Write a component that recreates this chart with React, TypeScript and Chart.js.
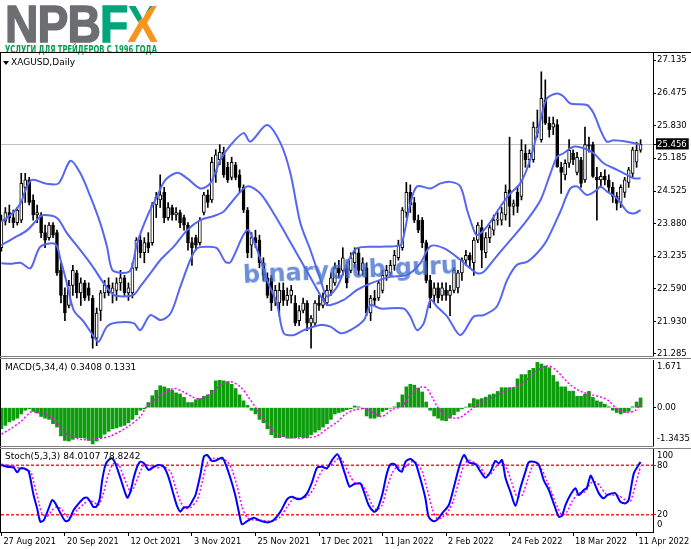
import React, { useEffect, useLayoutEffect, useRef } from 'react';
import { Chart, registerables } from 'chart.js';

Chart.register(...registerables);

// ---------------- data ----------------
const dateTickLabels = ['27 Aug 2021', '20 Sep 2021', '12 Oct 2021', '3 Nov 2021', '25 Nov 2021', '17 Dec 2021', '11 Jan 2022', '2 Feb 2022', '24 Feb 2022', '18 Mar 2022', '11 Apr 2022'];
const barsPerDateTick = 16;

const opens = [
  23.40, 23.93, 24.10, 24.00, 23.90, 23.95, 24.60, 24.75, 24.35, 24.05,
  24.05, 23.70, 23.60, 23.85, 23.70, 22.95, 22.45, 22.25, 22.65, 22.90,
  22.50, 22.70, 22.60, 22.40, 21.60, 22.15, 22.50, 22.65, 22.50, 22.55,
  22.70, 22.80, 22.50, 22.50, 23.00, 23.55, 23.30, 23.50, 23.50, 24.25,
  24.35, 24.50, 24.00, 24.20, 24.05, 24.10, 24.00, 23.85, 23.50, 23.60,
  23.50, 24.10, 24.45, 24.35, 24.90, 25.15, 25.30, 25.00, 24.80, 25.05,
  24.85, 24.60, 24.15, 23.45, 23.60, 23.55, 23.10, 22.80, 22.80, 22.35,
  22.30, 22.55, 22.35, 22.45, 22.30, 21.95, 22.15, 22.30, 21.90, 21.90,
  22.30, 22.25, 22.30, 22.55, 22.70, 23.00, 22.95, 23.00, 22.95, 23.10,
  23.30, 22.95, 23.00, 22.10, 22.40, 22.40, 22.55, 22.85, 22.90, 23.05,
  23.20, 23.40, 24.10, 24.50, 24.30, 23.95, 23.95, 23.50, 22.75, 22.45,
  22.60, 22.45, 22.55, 22.45, 22.55, 22.60, 22.90, 23.15, 23.25, 23.10,
  23.55, 23.80, 23.30, 23.60, 23.75, 23.95, 23.95, 24.05, 24.55, 24.22,
  24.50, 24.42, 25.28, 25.15, 25.15, 25.68, 25.55, 26.34, 25.88, 25.80,
  25.85, 25.00, 24.85, 25.08, 25.28, 24.90, 25.15, 24.75, 25.45, 25.45,
  24.80, 24.75, 24.82, 24.75, 24.60, 24.42, 24.30, 24.50, 24.70, 24.88,
  25.10, 25.34,
];
const highs = [
  24.05, 24.20, 24.25, 24.15, 24.20, 24.88, 24.88, 24.80, 24.45, 24.25,
  24.10, 23.85, 23.90, 23.90, 23.75, 23.10, 22.60, 22.75, 23.05, 22.95,
  22.80, 22.75, 22.70, 22.45, 22.20, 22.55, 22.75, 22.80, 22.70, 22.80,
  22.95, 22.85, 22.70, 23.10, 23.60, 23.65, 23.60, 23.70, 24.30, 24.50,
  24.85, 24.60, 24.30, 24.25, 24.20, 24.15, 24.05, 23.90, 23.60, 23.65,
  24.00, 24.50, 24.55, 25.20, 25.35, 25.45, 25.40, 25.10, 25.20, 25.10,
  24.95, 24.65, 24.20, 23.70, 23.75, 23.65, 23.20, 22.90, 22.85, 22.65,
  22.70, 22.70, 22.60, 22.65, 22.45, 22.25, 22.40, 22.35, 22.05, 22.35,
  22.45, 22.50, 22.65, 22.90, 23.10, 23.15, 23.40, 23.10, 23.30, 23.40,
  23.40, 23.20, 23.10, 22.45, 22.55, 22.75, 22.95, 23.05, 23.15, 23.35,
  23.55, 24.20, 24.70, 24.65, 24.40, 24.05, 24.00, 23.55, 22.85, 22.70,
  22.70, 22.70, 22.70, 22.65, 23.00, 22.95, 23.20, 23.35, 23.30, 23.60,
  23.90, 23.95, 23.70, 23.85, 24.05, 24.10, 24.20, 24.65, 25.60, 24.35,
  24.60, 25.55, 25.45, 25.35, 25.90, 26.14, 26.90, 26.74, 26.00, 26.00,
  25.95, 25.10, 25.15, 25.55, 25.35, 25.30, 25.20, 25.80, 25.60, 25.50,
  25.00, 24.90, 24.95, 24.85, 24.70, 24.50, 24.65, 24.80, 25.00, 25.40,
  25.50, 25.55,
];
const lows = [
  23.33, 23.85, 23.90, 23.80, 23.85, 23.90, 24.30, 24.25, 23.95, 23.90,
  23.60, 23.40, 23.55, 23.60, 22.85, 22.30, 21.95, 22.20, 22.45, 22.40,
  22.25, 22.35, 22.35, 21.40, 21.45, 21.95, 22.40, 22.45, 22.30, 22.35,
  22.55, 22.45, 22.35, 22.40, 22.95, 23.20, 23.10, 23.30, 23.45, 24.00,
  24.20, 23.90, 23.95, 23.95, 23.95, 23.80, 23.75, 23.35, 23.05, 23.35,
  23.45, 24.05, 24.20, 24.30, 24.70, 25.05, 24.80, 24.70, 24.75, 24.75,
  24.50, 24.10, 23.20, 23.20, 23.40, 23.00, 22.75, 22.40, 22.15, 22.25,
  22.05, 22.25, 22.25, 22.30, 21.85, 21.85, 22.10, 21.75, 21.40, 21.85,
  22.15, 22.20, 22.25, 22.45, 22.65, 22.80, 22.85, 22.60, 22.90, 23.00,
  22.85, 22.85, 22.05, 21.95, 22.25, 22.35, 22.50, 22.75, 22.85, 22.95,
  23.15, 23.35, 24.00, 24.10, 23.90, 23.70, 23.40, 22.70, 22.20, 22.30,
  22.30, 22.35, 22.35, 22.05, 22.50, 22.50, 22.75, 23.05, 23.00, 22.85,
  23.50, 23.00, 23.20, 23.50, 23.65, 23.85, 23.85, 23.95, 23.82, 24.05,
  24.10, 24.35, 25.00, 25.00, 25.10, 25.60, 25.50, 25.85, 25.60, 25.65,
  25.00, 24.48, 24.75, 25.00, 25.05, 24.85, 24.60, 24.70, 25.30, 24.80,
  23.95, 24.60, 24.65, 24.50, 24.30, 24.15, 24.20, 24.40, 24.60, 24.80,
  25.00, 25.30,
];
const closes = [
  23.95, 24.10, 24.00, 23.90, 24.15, 24.68, 24.75, 24.30, 24.05, 24.10,
  23.70, 23.55, 23.85, 23.65, 22.90, 22.45, 22.10, 22.65, 22.95, 22.50,
  22.70, 22.40, 22.45, 21.60, 22.10, 22.50, 22.65, 22.50, 22.60, 22.70,
  22.80, 22.50, 22.60, 23.00, 23.55, 23.30, 23.50, 23.40, 24.25, 24.40,
  24.45, 24.00, 24.20, 24.05, 24.10, 23.90, 23.85, 23.50, 23.40, 23.45,
  23.95, 24.45, 24.30, 25.10, 25.25, 25.30, 24.85, 24.75, 25.10, 24.80,
  24.60, 24.15, 23.30, 23.60, 23.50, 23.10, 22.85, 22.45, 22.30, 22.55,
  22.55, 22.35, 22.45, 22.55, 21.90, 22.15, 22.30, 21.90, 22.00, 22.30,
  22.25, 22.40, 22.55, 22.80, 23.00, 22.90, 23.20, 22.70, 23.20, 23.30,
  22.95, 23.10, 22.10, 22.40, 22.35, 22.70, 22.85, 22.95, 23.05, 23.25,
  23.45, 24.15, 24.50, 24.25, 23.95, 23.75, 23.50, 22.75, 22.40, 22.60,
  22.40, 22.60, 22.45, 22.55, 22.95, 22.90, 23.15, 23.25, 23.15, 23.55,
  23.85, 23.35, 23.60, 23.80, 23.95, 23.97, 24.10, 24.50, 24.22, 24.28,
  24.22, 25.34, 25.15, 25.28, 25.80, 25.80, 26.37, 25.88, 25.75, 25.87,
  25.01, 24.90, 25.08, 25.34, 25.15, 25.20, 24.68, 25.45, 25.42, 24.82,
  24.75, 24.82, 24.75, 24.60, 24.42, 24.28, 24.60, 24.75, 24.95, 25.35,
  25.34, 25.456,
];

// Bollinger bands: [bar index, price] read along each band
const bbUpper = [
  [0, 23.92], [2.3, 24.05], [4.8, 24.28], [6.1, 24.55], [7.7, 24.75], [11.5, 24.67], [14.4, 24.68], [17.4, 25.13],
  [19.9, 24.88], [22.4, 24.42], [24.9, 23.89], [26.6, 23.42], [27.9, 22.96], [30.0, 22.90], [32.1, 22.92], [32.9, 23.02],
  [34.2, 23.49], [36.7, 24.02], [39.2, 24.42], [41.3, 24.75], [44.3, 24.89], [46.8, 24.78], [50.1, 24.58], [52.6, 24.68],
  [55.2, 25.15], [57.7, 25.44], [61.0, 25.68], [62.7, 25.51], [66.9, 25.84], [70.3, 25.48], [72.8, 24.88], [75.3, 23.89],
  [77.8, 23.36], [80.4, 22.76], [82.0, 22.43], [84.6, 22.63], [87.1, 23.09], [89.6, 23.39], [95.5, 23.42], [100.5, 23.45],
  [101.3, 23.62], [103.0, 24.28], [104.7, 24.62], [108.1, 24.58], [110.6, 24.68], [113.1, 24.71], [115.6, 24.62], [117.3, 24.15],
  [119.0, 23.75], [119.8, 23.65], [122.3, 23.82], [125.7, 24.22], [128.2, 24.48], [130.7, 24.68], [133.2, 25.15], [135.8, 25.94],
  [137.4, 26.37], [140.0, 26.47], [141.6, 26.41], [143.3, 26.27], [147.5, 26.24], [149.2, 26.07], [150.9, 25.74], [152.5, 25.51],
  [154.2, 25.54], [157.6, 25.51], [161, 25.45],
];
const bbMiddle = [
  [0, 23.45], [3.1, 23.59], [6.5, 23.75], [9.4, 23.99], [10.7, 24.05], [14.0, 23.99], [16.5, 23.69], [19.9, 23.35],
  [23.3, 22.99], [25.8, 22.69], [28.3, 22.46], [30.8, 22.43], [33.3, 22.46], [35.0, 22.63], [37.5, 22.89], [40.1, 23.16],
  [43.4, 23.42], [46.8, 23.75], [50.1, 23.95], [53.5, 24.03], [56.0, 24.12], [57.7, 24.28], [61.9, 24.62], [65.2, 24.48],
  [68.6, 24.08], [72.0, 23.62], [75.3, 23.16], [78.7, 22.69], [81.6, 22.29], [82.9, 22.26], [86.2, 22.36], [89.6, 22.56],
  [93.0, 22.69], [98.0, 22.82], [102.2, 22.86], [105.5, 23.09], [108.1, 23.43], [111.4, 23.39], [115.6, 23.16], [118.1, 22.99],
  [119.8, 22.89], [121.5, 22.92], [124.0, 23.16], [128.2, 23.55], [132.4, 23.95], [135.8, 24.35], [138.3, 24.88], [140.0, 25.21],
  [141.6, 25.28], [144.1, 25.41], [146.7, 25.38], [149.2, 25.28], [151.7, 25.08], [155.1, 24.95], [157.6, 24.85], [159.3, 24.78],
  [161, 24.78],
];
const bbLower = [
  [0, 23.09], [2.3, 23.08], [4.8, 23.10], [7.3, 22.99], [9.8, 23.42], [13.6, 23.47], [14.9, 23.16], [16.5, 22.69],
  [18.2, 22.16], [20.7, 21.93], [23.3, 21.63], [24.5, 21.53], [26.6, 21.83], [29.1, 21.91], [33.3, 21.90], [35.0, 21.76],
  [37.5, 22.06], [40.1, 21.96], [42.6, 22.09], [45.1, 22.63], [47.6, 23.16], [49.3, 23.39], [51.8, 23.42], [54.3, 23.39],
  [56.4, 23.12], [57.7, 23.11], [61.9, 23.75], [64.4, 23.36], [66.9, 22.76], [69.4, 22.29], [71.1, 21.70], [73.6, 21.66],
  [76.2, 21.76], [80.4, 21.86], [82.9, 21.83], [85.4, 21.70], [87.9, 21.76], [91.3, 21.96], [93.0, 22.26], [95.5, 22.19],
  [101.3, 22.19], [103.0, 22.03], [104.7, 21.76], [106.4, 21.90], [108.1, 22.36], [109.7, 22.23], [112.3, 22.03], [115.6, 21.66],
  [119.0, 22.03], [121.5, 22.06], [124.8, 22.23], [127.4, 22.76], [129.9, 23.06], [132.4, 23.12], [134.9, 23.29], [137.4, 23.55],
  [140.8, 24.12], [143.3, 24.58], [145.0, 24.62], [147.5, 24.45], [150.0, 24.55], [150.9, 24.62], [152.5, 24.52], [155.1, 24.38],
  [157.6, 24.12], [159.3, 24.08], [161, 24.15],
];
const priceTickLabels = ['27.135', '26.475', '25.830', '25.185', '24.525', '23.880', '23.235', '22.590', '21.930', '21.285'];

const macdHist = [
  -0.74, -0.62, -0.50, -0.44, -0.37, -0.22, -0.09, -0.04, -0.13, -0.19,
  -0.31, -0.37, -0.41, -0.56, -0.68, -0.99, -1.15, -1.17, -1.11, -1.05,
  -1.05, -1.07, -1.15, -1.27, -1.17, -1.05, -0.93, -0.83, -0.74, -0.71,
  -0.66, -0.62, -0.53, -0.41, -0.25, -0.09, -0.04, 0.18, 0.42, 0.61,
  0.77, 0.73, 0.67, 0.61, 0.52, 0.48, 0.36, 0.18, 0.18, 0.28,
  0.32, 0.40, 0.45, 0.61, 0.94, 0.96, 0.94, 0.91, 0.82, 0.67,
  0.45, 0.24, 0.08, -0.09, -0.22, -0.41, -0.53, -0.74, -0.95, -1.05,
  -1.05, -1.02, -1.07, -1.07, -1.05, -1.02, -1.05, -1.05, -0.95, -0.86,
  -0.78, -0.68, -0.56, -0.41, -0.22, -0.17, -0.13, -0.07, -0.04, 0.06,
  0.03, -0.04, -0.29, -0.37, -0.37, -0.31, -0.13, -0.07, -0.02, 0.03,
  0.18, 0.45, 0.73, 0.82, 0.79, 0.69, 0.55, 0.20, -0.09, -0.29,
  -0.37, -0.44, -0.46, -0.37, -0.25, -0.13, -0.04, 0.02, 0.14, 0.32,
  0.28, 0.32, 0.37, 0.45, 0.48, 0.57, 0.70, 0.70, 0.70, 0.70,
  1.01, 1.16, 1.16, 1.31, 1.38, 1.59, 1.53, 1.46, 1.40, 1.13,
  0.91, 0.73, 0.73, 0.58, 0.58, 0.40, 0.40, 0.48, 0.57, 0.36,
  0.24, 0.20, 0.12, 0.03, -0.09, -0.17, -0.22, -0.17, -0.13, 0.03,
  0.20, 0.3408,
];
const macdSignal = [
  [0, -0.93], [2.3, -0.74], [4.8, -0.50], [7.3, -0.16], [8.5, -0.15], [11.5, -0.25], [14.0, -0.50], [16.5, -0.93],
  [19.9, -1.11], [23.3, -1.11], [27.5, -0.99], [31.7, -0.68], [35.0, -0.31], [36.7, 0.06], [40.1, 0.42], [43.4, 0.67],
  [45.9, 0.55], [48.4, 0.36], [50.1, 0.30], [52.6, 0.48], [55.2, 0.79], [57.7, 0.91], [60.2, 0.73], [62.3, 0.36],
  [64.4, -0.07], [66.9, -0.56], [69.4, -0.93], [72.8, -1.05], [77.0, -1.05], [79.5, -0.99], [82.0, -0.74], [84.6, -0.50],
  [86.7, -0.22], [89.2, -0.07], [91.7, -0.04], [94.2, -0.22], [95.9, -0.31], [98.4, -0.07], [100.9, 0.06], [102.6, 0.36],
  [104.3, 0.61], [106.0, 0.73], [107.2, 0.67], [108.5, 0.36], [109.7, 0.06], [111.0, -0.19], [112.7, -0.31], [114.4, -0.37],
  [116.0, -0.31], [117.7, -0.13], [120.2, 0.12], [122.8, 0.30], [125.3, 0.48], [127.8, 0.67], [129.5, 0.73], [131.2, 0.85],
  [133.7, 1.16], [136.2, 1.40], [137.9, 1.46], [139.5, 1.34], [141.2, 1.10], [142.9, 0.85], [144.6, 0.67], [146.3, 0.55],
  [148.8, 0.45], [151.3, 0.36], [153.0, 0.24], [154.7, 0.00], [156.3, -0.13], [158.0, -0.17], [159.7, -0.09], [161, 0.1331],
];
const macdTickLabels = ['1.671', '0.00', '-1.3435'];

const stochMain = [
  [0, 80.4], [1.4, 78.3], [3.1, 77.1], [4.0, 71.5], [4.8, 76.3], [6.1, 75.5], [6.9, 72.3], [8.1, 43.9], [9.0, 27.7], [9.8, 11.5],
  [10.7, 13.5], [11.9, 27.7], [12.8, 37.8], [13.6, 33.8], [14.9, 21.6], [16.1, 12.3], [17.0, 13.5], [18.2, 25.7], [19.5, 33.8], [20.7, 39.9],
  [21.6, 40.7], [22.4, 35.8], [23.1, 29.7], [23.9, 29.7], [24.7, 37.8], [25.4, 62.2], [26.2, 80.4], [27.0, 86.4], [27.9, 88.5], [28.7, 82.4],
  [30.0, 64.2], [31.7, 40.7], [32.5, 48.0], [33.3, 64.2], [34.2, 78.3], [35.0, 84.4], [35.9, 82.4], [37.1, 74.3], [38.4, 78.3], [39.6, 80.4],
  [40.9, 78.3], [42.2, 64.2], [43.4, 43.9], [44.3, 29.7], [45.1, 23.7], [45.9, 28.5], [47.2, 29.7], [48.0, 35.8], [48.9, 43.9], [50.1, 68.2],
  [51.0, 90.5], [51.8, 92.5], [53.1, 85.2], [54.3, 86.4], [55.6, 89.3], [56.4, 82.4], [57.7, 64.2], [58.9, 43.9], [59.8, 23.7], [60.6, 8.3],
  [61.9, 12.3], [63.6, 16.4], [64.8, 13.5], [66.1, 11.5], [67.3, 10.7], [68.6, 13.5], [70.3, 23.7], [72.0, 39.0], [73.2, 41.9], [74.5, 39.0],
  [75.7, 39.9], [77.0, 45.9], [78.3, 60.1], [79.5, 77.1], [80.8, 78.3], [82.0, 76.3], [83.3, 86.4], [84.6, 93.3], [85.4, 86.4], [86.65, 68.0],
  [87.7, 54.0], [88.75, 56.9], [90.4, 58.1], [91.3, 48.0], [92.5, 31.8], [93.8, 23.7], [94.6, 25.7], [95.9, 43.9], [97.1, 70.2], [98.0, 81.2],
  [99.1, 81.2], [100.1, 74.3], [100.9, 72.3], [101.8, 84.4], [103.0, 87.7], [104.3, 82.4], [105.5, 64.2], [106.8, 39.9], [107.6, 17.6], [108.7, 12.3],
  [109.7, 13.5], [111.0, 21.6], [112.7, 31.8], [113.9, 52.0], [115.2, 76.3], [116.5, 92.5], [117.7, 83.6], [119.4, 81.2], [120.7, 72.3], [121.9, 65.0],
  [123.2, 72.3], [124.4, 85.2], [125.3, 82.4], [126.1, 86.4], [127.0, 64.2], [128.2, 48.0], [129.5, 30.9], [130.7, 52.0], [132.0, 72.3], [132.8, 83.6],
  [134.1, 84.4], [135.3, 81.2], [136.6, 62.1], [137.9, 50.0], [139.1, 33.8], [140.4, 17.6], [141.2, 18.8], [142.1, 31.8], [143.3, 43.9], [144.6, 52.0],
  [145.4, 43.9], [146.7, 50.0], [147.5, 52.8], [148.4, 67.4], [149.2, 60.1], [150.5, 45.9], [151.7, 39.9], [152.6, 43.9], [153.8, 45.9], [154.7, 45.9],
  [155.9, 35.8], [157.2, 33.8], [158.0, 37.8], [159.3, 70.2], [160.5, 80.4], [161, 84.0107],
];
const stochSignal = [
  [0, 81.2], [2.3, 79.6], [4.8, 76.3], [7.3, 72.3], [8.1, 60.1], [9.4, 35.8], [10.2, 21.6], [11.5, 17.6], [12.8, 25.7], [14.0, 29.7],
  [15.3, 25.7], [16.5, 17.6], [17.8, 17.6], [19.1, 25.7], [20.7, 32.6], [22.0, 37.8], [23.3, 35.0], [24.5, 31.8], [25.8, 48.0], [27.0, 70.2],
  [28.3, 82.4], [29.6, 80.4], [30.8, 66.2], [32.5, 48.0], [33.3, 52.0], [34.6, 68.2], [35.9, 80.4], [37.5, 79.6], [39.2, 77.1], [40.9, 78.3],
  [42.6, 72.3], [43.8, 54.0], [45.1, 35.8], [46.4, 27.7], [47.6, 28.5], [49.3, 37.8], [50.6, 60.1], [51.8, 82.4], [53.5, 88.5], [55.2, 87.7],
  [56.8, 85.2], [58.1, 74.3], [59.4, 54.0], [60.6, 29.7], [61.9, 16.4], [63.6, 13.5], [65.2, 13.5], [66.9, 12.3], [68.6, 12.3], [70.3, 17.6],
  [72.0, 29.7], [73.6, 39.9], [75.3, 39.9], [77.0, 41.9], [78.7, 52.0], [79.9, 66.2], [81.2, 76.3], [82.9, 79.6], [84.1, 85.2], [85.4, 89.3],
  [86.65, 79.0], [87.9, 66.2], [89.2, 58.1], [90.9, 56.1], [92.1, 45.9], [93.4, 31.8], [94.6, 25.7], [95.9, 31.8], [97.1, 52.0], [98.4, 70.2],
  [99.7, 78.3], [100.9, 75.5], [102.2, 79.6], [103.4, 84.4], [104.7, 82.4], [106.0, 72.3], [107.2, 52.0], [108.5, 27.7], [109.7, 15.6], [111.0, 16.4],
  [112.7, 25.7], [113.9, 37.8], [115.2, 60.1], [116.5, 80.4], [117.7, 86.4], [119.4, 82.4], [120.7, 77.1], [121.9, 69.0], [123.2, 69.0], [124.4, 77.1],
  [126.1, 84.4], [127.4, 74.3], [128.6, 58.1], [129.9, 41.9], [131.2, 43.9], [132.4, 60.1], [133.7, 78.3], [135.0, 82.4], [136.2, 74.3], [137.5, 60.1],
  [138.7, 45.9], [140.0, 29.7], [141.2, 19.6], [142.5, 23.7], [143.7, 35.8], [145.4, 45.9], [147.1, 48.0], [148.4, 58.1], [149.6, 60.1], [150.9, 54.0],
  [152.1, 45.9], [153.8, 43.9], [155.5, 43.1], [157.2, 37.8], [158.4, 35.8], [159.7, 56.1], [160.6, 72.0], [161, 78.8242],
];
const stochTickLabels = ['100', '80', '20', '0'];
const stochLevels = [80, 20];

// ---------------- layout / style ----------------
const FONT = 'DejaVu Sans';
const AXIS_FONT = { family: FONT, size: 8.5 };
const DATE_FONT = { family: FONT, size: 8.2 };
const CANVAS_LEFT = 1;
const CANVAS_W = 690;
const AXIS_W = 38;
const X_MIN = -0.1;
const X_MAX = 164.13;
const PRICE_TOP = 53, PRICE_H = 303, PRICE_MIN = 21.2452, PRICE_MAX = 27.2743;
const MACD_TOP = 360, MACD_H = 86, MACD_MIN = -1.3435, MACD_MAX = 1.671;
const STOCH_TOP = 449, STOCH_H = 83, STOCH_MIN = -1.0, STOCH_MAX = 99.8, DATE_AXIS_H = 17;
const EDGE_LABEL_INSET = 7;
const BAND_COLOR = '#5566f2';
const HIST_COLOR = '#0c9c0c';

type HLine = { value: number; color: string; dash?: number[]; width?: number };

// reference lines drawn through the chart's own y scale
function makeHLines(lines: HLine[]) {
  return {
    id: 'hLines',
    beforeDatasetsDraw(chart: any) {
      const { ctx, chartArea } = chart;
      const y = chart.scales.y;
      ctx.save();
      for (const l of lines) {
        const w = l.width || 1;
        const raw = y.getPixelForValue(l.value);
        const py = w === 1 ? Math.round(raw) + 0.5 : raw;
        ctx.strokeStyle = l.color;
        ctx.lineWidth = w;
        ctx.setLineDash(l.dash ? l.dash.slice() : []);
        ctx.beginPath();
        ctx.moveTo(chartArea.left, py);
        ctx.lineTo(chartArea.right, py);
        ctx.stroke();
      }
      ctx.restore();
    },
  };
}

const pts = (arr: number[][]) => arr.map(([x, y]) => ({ x, y }));

function yScale(min: number, max: number, values: number[], labels: string[], extraTicks: any = {}, extraGrid: any = {}) {
  return {
    position: 'right',
    min,
    max,
    afterBuildTicks: (s: any) => {
      s.ticks = values.map((v) => ({ value: v }));
    },
    afterFit: (s: any) => {
      s.width = AXIS_W;
      s.paddingTop = 0;
      s.paddingBottom = 0;
    },
    ticks: {
      autoSkip: false,
      callback: (_v: any, i: number) => labels[i],
      font: AXIS_FONT,
      color: '#000',
      padding: 1,
      ...extraTicks,
    },
    grid: { drawOnChartArea: false, drawTicks: true, tickLength: 3, tickColor: '#000', ...extraGrid },
    border: { display: true, color: '#000', width: 1 },
  };
}

const hiddenX = () => ({ type: 'linear', min: X_MIN, max: X_MAX, offset: false, display: false });

const baseOptions = () => ({
  animation: false,
  responsive: false,
  maintainAspectRatio: false,
  events: [],
  layout: { padding: 0 },
});

function priceConfig(): any {
  const last = closes[closes.length - 1];
  const values = [...priceTickLabels.map(Number), last];
  const labels = [...priceTickLabels, last.toFixed(3)];
  const cur = values.length - 1;
  const band = (d: number[][]) => ({
    type: 'line', data: pts(d), borderColor: BAND_COLOR, borderWidth: 2, pointRadius: 0, tension: 0.3, order: 0,
  });
  return {
    type: 'bar',
    data: {
      datasets: [
        band(bbUpper),
        band(bbMiddle),
        band(bbLower),
        {
          type: 'bar',
          data: opens.map((o, i) => ({ x: i, y: [Math.min(o, closes[i]), Math.max(o, closes[i])] })),
          backgroundColor: opens.map((o, i) => (closes[i] >= o ? '#ffffff' : '#000000')),
          borderColor: '#000',
          borderWidth: 1,
          borderSkipped: false,
          barThickness: 3,
          grouped: false,
          order: 1,
        },
        {
          type: 'bar',
          data: lows.map((l, i) => ({ x: i, y: [l, highs[i]] })),
          backgroundColor: '#000',
          borderWidth: 0,
          barThickness: 1,
          grouped: false,
          order: 2,
        },
      ],
    },
    options: {
      ...baseOptions(),
      plugins: { legend: { display: false }, tooltip: { enabled: false } },
      scales: {
        x: hiddenX(),
        y: yScale(PRICE_MIN, PRICE_MAX, values, labels, {
          color: (c: any) => (c.index === cur ? '#ffffff' : '#000000'),
          showLabelBackdrop: (c: any) => c.index === cur,
          backdropColor: '#000',
          backdropPadding: { left: 1, right: 2, top: 1, bottom: 0 },
        }),
      },
    },
    plugins: [makeHLines([{ value: last, color: '#c0c0c0' }])],
  };
}

function macdConfig(): any {
  const perPx = (MACD_MAX - MACD_MIN) / MACD_H;
  const values = [MACD_MAX - EDGE_LABEL_INSET * perPx, 0, MACD_MIN + EDGE_LABEL_INSET * perPx];
  return {
    type: 'bar',
    data: {
      datasets: [
        {
          type: 'line', data: pts(macdSignal), borderColor: '#ff00ff', borderWidth: 1.5, borderDash: [2, 2],
          pointRadius: 0, tension: 0.3, order: 0,
        },
        {
          type: 'bar', data: macdHist.map((v, i) => ({ x: i, y: v })), backgroundColor: HIST_COLOR,
          borderWidth: 0, barThickness: 3, grouped: false, order: 1,
        },
      ],
    },
    options: {
      ...baseOptions(),
      plugins: { legend: { display: false }, tooltip: { enabled: false } },
      scales: {
        x: hiddenX(),
        y: yScale(MACD_MIN, MACD_MAX, values, macdTickLabels, {}, {
          tickColor: (c: any) => (c.index === 1 ? '#000' : 'rgba(0,0,0,0)'),
        }),
      },
    },
  };
}

function stochConfig(): any {
  const perPx = (STOCH_MAX - STOCH_MIN) / STOCH_H;
  const values = [STOCH_MAX - EDGE_LABEL_INSET * perPx, 80, 20, STOCH_MIN + EDGE_LABEL_INSET * perPx];
  return {
    type: 'line',
    data: {
      datasets: [
        { data: pts(stochSignal), borderColor: '#ff00ff', borderWidth: 1.5, borderDash: [2, 2], pointRadius: 0, tension: 0.25, order: 1 },
        { data: pts(stochMain), borderColor: '#0000ff', borderWidth: 2, pointRadius: 0, tension: 0.25, order: 0 },
      ],
    },
    options: {
      ...baseOptions(),
      plugins: { legend: { display: false }, tooltip: { enabled: false } },
      scales: {
        x: {
          type: 'linear',
          min: X_MIN,
          max: X_MAX,
          offset: false,
          afterBuildTicks: (s: any) => {
            s.ticks = dateTickLabels.map((_, k) => ({ value: k * barsPerDateTick }));
          },
          afterFit: (s: any) => {
            s.height = DATE_AXIS_H;
            s.paddingLeft = 0;
            s.paddingRight = 0;
          },
          ticks: {
            autoSkip: false,
            maxRotation: 0,
            minRotation: 0,
            align: 'start',
            labelOffset: 2,
            padding: 1,
            font: DATE_FONT,
            color: '#000',
            callback: (_v: any, i: number) => dateTickLabels[i],
          },
          grid: { drawOnChartArea: false, drawTicks: true, tickLength: 4, tickColor: '#000' },
          border: { display: true, color: '#000', width: 1 },
        },
        y: yScale(STOCH_MIN, STOCH_MAX, values, stochTickLabels, {}, {
          tickColor: (c: any) => (c.index === 1 || c.index === 2 ? '#ff0000' : 'rgba(0,0,0,0)'),
        }),
      },
    },
    plugins: [makeHLines(stochLevels.map((v) => ({ value: v, color: '#ff2020', dash: [3, 2], width: 1.6 })))],
  };
}

function Pane({ top, height, build }: { top: number; height: number; build: () => any }) {
  const ref = useRef<HTMLCanvasElement>(null);
  useEffect(() => {
    const chart = new Chart(ref.current as HTMLCanvasElement, build());
    return () => chart.destroy();
  }, []);
  return (
    <canvas
      ref={ref}
      width={CANVAS_W}
      height={height}
      style={{ position: 'absolute', left: CANVAS_LEFT, top, width: CANVAS_W, height }}
    />
  );
}

function FitText({ text, width, style }: { text: React.ReactNode; width: number; style: React.CSSProperties }) {
  const ref = useRef<HTMLSpanElement>(null);
  useLayoutEffect(() => {
    const el = ref.current;
    if (!el) return;
    const w = el.offsetWidth;
    if (w > 0) el.style.transform = `scaleX(${width / w})`;
  }, []);
  return (
    <span ref={ref} style={{ display: 'inline-block', whiteSpace: 'nowrap', transformOrigin: 'left top', ...style }}>
      {text}
    </span>
  );
}

export default function App() {
  const lastMacd = macdHist[macdHist.length - 1];
  const lastSignal = macdSignal[macdSignal.length - 1][1];
  const lastK = stochMain[stochMain.length - 1][1];
  const lastD = stochSignal[stochSignal.length - 1][1];
  const labelStyle: React.CSSProperties = {
    position: 'absolute', font: `9px "${FONT}"`, color: '#000', lineHeight: '11px', whiteSpace: 'nowrap',
  };
  return (
    <div style={{ position: 'fixed', left: 0, top: 0, width: 691, height: 549, background: '#fff', overflow: 'hidden' }}>
      {/* logo */}
      <div style={{ position: 'absolute', left: 5, top: -2, height: 52, lineHeight: '52px' }}>
        <FitText
          width={152}
          style={{ font: 'bold 52px "Liberation Sans"', lineHeight: '52px', letterSpacing: '-1px', WebkitTextStroke: '1.5px currentColor' }}
          text={
            <>
              <span style={{ color: '#6d6e71' }}>NPB</span>
              <span style={{ color: '#00a57c' }}>F</span>
              <span
                style={{
                  background: 'linear-gradient(135deg, #00a57c 0%, #00a57c 42%, #f7941d 43%, #f7941d 100%)',
                  WebkitBackgroundClip: 'text',
                  backgroundClip: 'text',
                  color: 'transparent',
                  WebkitTextStroke: '0px',
                }}
              >
                X
              </span>
            </>
          }
        />
      </div>
      <div style={{ position: 'absolute', left: 5, top: 41.5, height: 11, lineHeight: '11px' }}>
        <FitText
          width={152}
          style={{ font: 'bold 10.3px "DejaVu Sans Condensed", "DejaVu Sans"', color: '#00a050', lineHeight: '11px' }}
          text="УСЛУГИ ДЛЯ ТРЕЙДЕРОВ С 1996 ГОДА"
        />
      </div>

      {/* frame lines */}
      <div style={{ position: 'absolute', left: 0, top: 52, width: 691, height: 1, background: '#000' }} />
      <div style={{ position: 'absolute', left: 0, top: 52, width: 1, height: 481, background: '#000' }} />

      <Pane top={PRICE_TOP} height={PRICE_H} build={priceConfig} />
      <div style={{ position: 'absolute', left: 0, top: 356, width: 654, height: 1, background: '#808080' }} />
      <div style={{ position: 'absolute', left: 0, top: 358, width: 691, height: 1, background: '#808080' }} />
      <Pane top={MACD_TOP} height={MACD_H} build={macdConfig} />
      <div style={{ position: 'absolute', left: 0, top: 446, width: 654, height: 1, background: '#808080' }} />
      <div style={{ position: 'absolute', left: 0, top: 448, width: 691, height: 1, background: '#808080' }} />
      <Pane top={STOCH_TOP} height={STOCH_H + DATE_AXIS_H} build={stochConfig} />

      {/* pane captions */}
      <div style={{ position: 'absolute', left: 3, top: 61, width: 0, height: 0, borderLeft: '3px solid transparent', borderRight: '3px solid transparent', borderTop: '4px solid #000' }} />
      <div style={{ ...labelStyle, left: 11, top: 57 }}>XAGUSD,Daily</div>
      <div style={{ ...labelStyle, left: 5, top: 362 }}>{`MACD(5,34,4) ${lastMacd.toFixed(4)} ${lastSignal.toFixed(4)}`}</div>
      <div style={{ ...labelStyle, left: 5, top: 451 }}>{`Stoch(5,3,3) ${lastK.toFixed(4)} ${lastD.toFixed(4)}`}</div>

      {/* watermark */}
      <div
        style={{
          position: 'absolute', left: 243, top: 263, font: 'bold 24px "DejaVu Sans"', lineHeight: '24px',
          color: 'rgba(66,112,206,0.78)', transform: 'rotate(-2.6deg)', transformOrigin: 'left center', whiteSpace: 'nowrap',
        }}
      >
        binaryclub.guru
      </div>
    </div>
  );
}
